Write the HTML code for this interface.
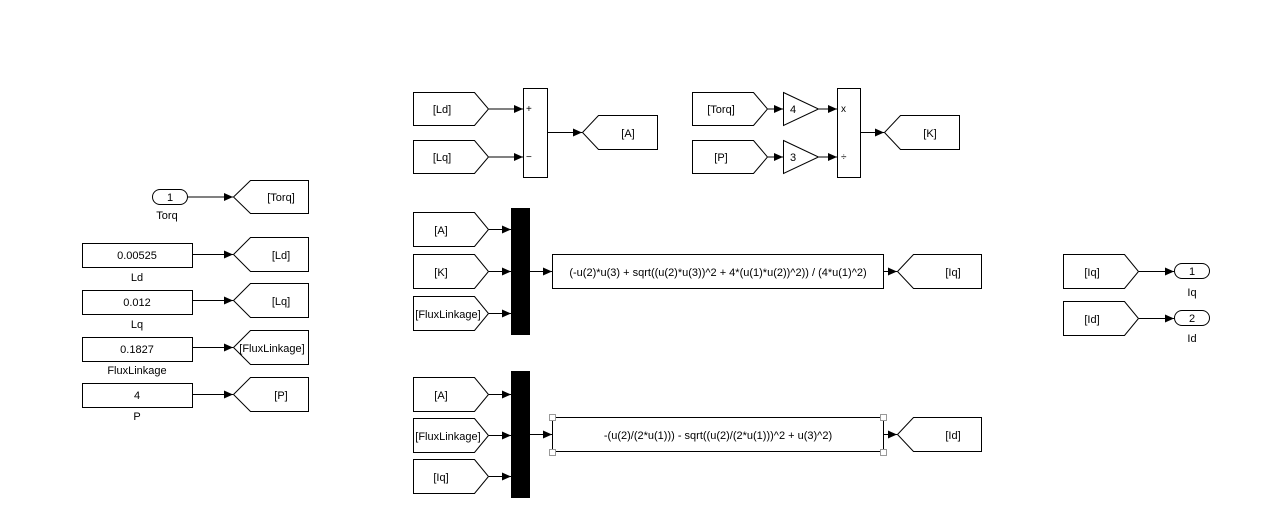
<!DOCTYPE html>
<html><head><meta charset="utf-8"><style>
html,body{margin:0;padding:0;background:#fff;}
svg{display:block;font-family:"Liberation Sans",Arial,sans-serif;font-size:11px;}
</style></head><body>
<svg width="1267" height="524" viewBox="0 0 1267 524" xmlns="http://www.w3.org/2000/svg">
<defs>
<marker id="ah" markerWidth="9" markerHeight="8" refX="9" refY="4" orient="auto" markerUnits="userSpaceOnUse">
<path d="M0,0 L9,4 L0,8 z" fill="#000"/></marker>
</defs>
<g fill="#fff" stroke="#000" stroke-width="1">
<!-- Left column -->
<rect x="152.5" y="189.5" width="35" height="15" rx="7.5"/>
<rect x="82.5" y="243.5" width="110" height="24"/>
<rect x="82.5" y="290.5" width="110" height="24"/>
<rect x="82.5" y="337.5" width="110" height="24"/>
<rect x="82.5" y="383.5" width="110" height="24"/>
<!-- Goto tags left -->
<path d="M233.5,197 L250.5,180.5 H308.5 V213.5 H250.5 Z"/>
<path d="M233.5,254.5 L250.5,237.5 H308.5 V271.5 H250.5 Z"/>
<path d="M233.5,300.5 L250.5,283.5 H308.5 V317.5 H250.5 Z"/>
<path d="M233.5,347.5 L250.5,330.5 H308.5 V364.5 H250.5 Z"/>
<path d="M233.5,394.5 L250.5,377.5 H308.5 V411.5 H250.5 Z"/>
<!-- Top middle From tags -->
<path d="M413.5,92.5 H474.5 L488.5,109 L474.5,125.5 H413.5 Z"/>
<path d="M413.5,140.5 H474.5 L488.5,157 L474.5,173.5 H413.5 Z"/>
<rect x="523.5" y="88.5" width="24" height="89"/>
<path d="M582.5,132.5 L598.5,115.5 H657.5 V149.5 H598.5 Z"/>
<path d="M692.5,92.5 H753.5 L767.5,109 L753.5,125.5 H692.5 Z"/>
<path d="M692.5,140.5 H753.5 L767.5,157 L753.5,173.5 H692.5 Z"/>
<path d="M783.5,92.5 L818.5,109 L783.5,125.5 Z"/>
<path d="M783.5,140.5 L818.5,157 L783.5,173.5 Z"/>
<rect x="837.5" y="88.5" width="23" height="89"/>
<path d="M884.5,132.5 L900.5,115.5 H959.5 V149.5 H900.5 Z"/>
<!-- Mux1 tags -->
<path d="M413.5,212.5 H474.5 L488.5,229.5 L474.5,246.5 H413.5 Z"/>
<path d="M413.5,254.5 H474.5 L488.5,271.5 L474.5,288.5 H413.5 Z"/>
<path d="M413.5,296.5 H474.5 L488.5,313.5 L474.5,330.5 H413.5 Z"/>
<rect x="552.5" y="254.5" width="331" height="34"/>
<path d="M897.5,271.5 L913.5,254.5 H981.5 V288.5 H913.5 Z"/>
<!-- Mux2 tags -->
<path d="M413.5,377.5 H474.5 L488.5,394.5 L474.5,411.5 H413.5 Z"/>
<path d="M413.5,418.5 H474.5 L488.5,435.5 L474.5,452.5 H413.5 Z"/>
<path d="M413.5,459.5 H474.5 L488.5,476.5 L474.5,493.5 H413.5 Z"/>
<rect x="552.5" y="417.5" width="331" height="34"/>
<path d="M897.5,434.5 L913.5,417.5 H981.5 V451.5 H913.5 Z"/>
<!-- Right -->
<path d="M1063.5,254.5 H1124.5 L1138.5,271.5 L1124.5,288.5 H1063.5 Z"/>
<path d="M1063.5,301.5 H1124.5 L1138.5,318.5 L1124.5,335.5 H1063.5 Z"/>
<rect x="1174.5" y="263.5" width="35" height="15" rx="7.5"/>
<rect x="1174.5" y="310.5" width="35" height="15" rx="7.5"/>
</g>
<!-- selection handles -->
<g fill="#fff" stroke="#999">
<rect x="549.5" y="414.5" width="6" height="6"/><rect x="549.5" y="449.5" width="6" height="6"/>
<rect x="880.5" y="414.5" width="6" height="6"/><rect x="880.5" y="449.5" width="6" height="6"/>
</g>
<!-- mux bars -->
<rect x="511" y="208" width="19" height="127" fill="#000"/>
<rect x="511" y="371" width="19" height="127" fill="#000"/>
<!-- connectors -->
<g stroke="#000" stroke-width="1" marker-end="url(#ah)">
<line x1="188" y1="197" x2="233" y2="197"/>
<line x1="193" y1="254.5" x2="233" y2="254.5"/>
<line x1="193" y1="300.5" x2="233" y2="300.5"/>
<line x1="193" y1="347.5" x2="233" y2="347.5"/>
<line x1="193" y1="394.5" x2="233" y2="394.5"/>
<line x1="489" y1="109" x2="523" y2="109"/>
<line x1="489" y1="157" x2="523" y2="157"/>
<line x1="548" y1="132.5" x2="582" y2="132.5"/>
<line x1="768" y1="109" x2="783" y2="109"/>
<line x1="768" y1="157" x2="783" y2="157"/>
<line x1="819" y1="109" x2="837" y2="109"/>
<line x1="819" y1="157" x2="837" y2="157"/>
<line x1="861" y1="132.5" x2="884" y2="132.5"/>
<line x1="489" y1="229.5" x2="511" y2="229.5"/>
<line x1="489" y1="271.5" x2="511" y2="271.5"/>
<line x1="489" y1="313.5" x2="511" y2="313.5"/>
<line x1="530" y1="271.5" x2="552" y2="271.5"/>
<line x1="884" y1="271.5" x2="897" y2="271.5"/>
<line x1="489" y1="394.5" x2="511" y2="394.5"/>
<line x1="489" y1="435.5" x2="511" y2="435.5"/>
<line x1="489" y1="476.5" x2="511" y2="476.5"/>
<line x1="530" y1="434.5" x2="552" y2="434.5"/>
<line x1="884" y1="434.5" x2="897" y2="434.5"/>
<line x1="1139" y1="271.5" x2="1174" y2="271.5"/>
<line x1="1139" y1="318.5" x2="1174" y2="318.5"/>
</g>
<!-- text -->
<g fill="#000" text-anchor="middle">
<text x="170" y="201">1</text>
<text x="167" y="219">Torq</text>
<text x="137" y="259">0.00525</text>
<text x="137" y="281">Ld</text>
<text x="137" y="306">0.012</text>
<text x="137" y="328">Lq</text>
<text x="137" y="353">0.1827</text>
<text x="137" y="374">FluxLinkage</text>
<text x="137" y="399">4</text>
<text x="137" y="420">P</text>
<text x="281" y="201">[Torq]</text>
<text x="281" y="259">[Ld]</text>
<text x="281" y="305">[Lq]</text>
<text x="272" y="352">[FluxLinkage]</text>
<text x="281" y="399">[P]</text>
<text x="442" y="113">[Ld]</text>
<text x="442" y="161">[Lq]</text>
<text x="628" y="137">[A]</text>
<text x="721" y="113">[Torq]</text>
<text x="721" y="161">[P]</text>
<text x="793" y="113">4</text>
<text x="793" y="161">3</text>
<text x="930" y="137">[K]</text>
<text x="441" y="234">[A]</text>
<text x="441" y="276">[K]</text>
<text x="448" y="318">[FluxLinkage]</text>
<text x="718" y="276">(-u(2)*u(3) + sqrt((u(2)*u(3))^2 + 4*(u(1)*u(2))^2)) / (4*u(1)^2)</text>
<text x="953" y="276">[Iq]</text>
<text x="441" y="399">[A]</text>
<text x="448" y="440">[FluxLinkage]</text>
<text x="441" y="481">[Iq]</text>
<text x="718" y="439">-(u(2)/(2*u(1))) - sqrt((u(2)/(2*u(1)))^2 + u(3)^2)</text>
<text x="953" y="439">[Id]</text>
<text x="1092" y="276">[Iq]</text>
<text x="1092" y="323">[Id]</text>
<text x="1192" y="275">1</text>
<text x="1192" y="322">2</text>
<text x="1192" y="296">Iq</text>
<text x="1192" y="342">Id</text>
</g>
<g fill="#000" font-size="10">
<text x="526" y="112">+</text>
<text x="526" y="160">−</text>
<text x="841" y="112">x</text>
<text x="841" y="160">÷</text>
</g>
</svg>
</body></html>
